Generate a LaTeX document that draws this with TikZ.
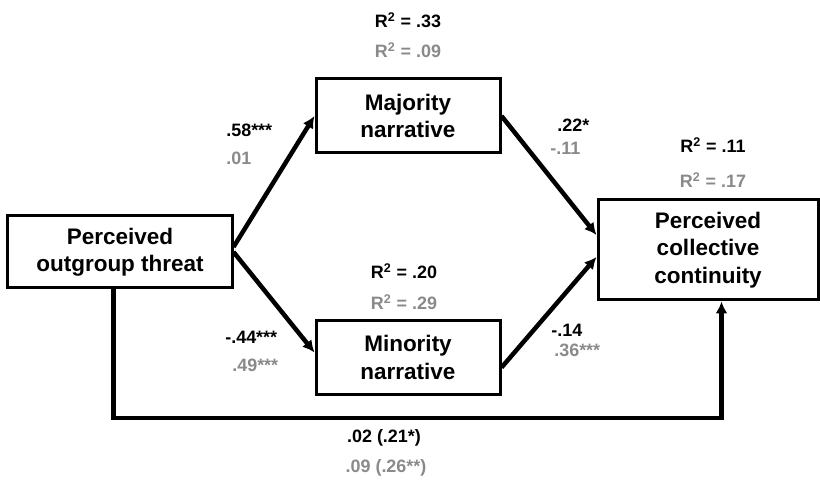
\documentclass[tikz,border=0pt]{standalone}
\usepackage{fontspec}
\setmainfont{Liberation Sans}
\usepackage{xcolor}
\usepackage{tikz}
\usetikzlibrary{arrows.meta}
\definecolor{lightgr}{RGB}{138,138,138}

\begin{document}
\begin{tikzpicture}[
	textbox/.style={font=\fontsize{12.8}{15.5}\selectfont\bfseries, draw, line width=0.06cm, minimum width=3.68cm, minimum height=1.48cm, inner sep=0, align=center},
	coef/.style={font=\fontsize{10.2}{12}\selectfont\bfseries, inner sep=0},
	arr/.style={line width=0.09cm, -{Latex[length=2.4mm,width=2.4mm]}}
]
\useasboundingbox (0,0) rectangle (16.4,9.62);

\node[textbox, minimum width=4.48cm, minimum height=1.44cm] (threat) at (2.4,4.58) {Perceived\\outgroup threat};
\node[textbox] (major) at (8.16,7.3) {Majority\\narrative};
\node[textbox] (minor) at (8.16,2.47) {Minority\\narrative};
\node[textbox, minimum width=4.4cm, minimum height=2cm] (cont) at (14.16,4.62) {Perceived\\collective\\continuity};

\node[coef] (r2maj) at (8.16,9.22) {R\textsuperscript{2} = .33};
\node[coef, lightgr] (r2majg) at (8.16,8.62) {R\textsuperscript{2} = .09};
\node[coef] (r2min) at (8.08,4.2) {R\textsuperscript{2} = .20};
\node[coef, lightgr] (r2ming) at (8.08,3.58) {R\textsuperscript{2} = .29};
\node[coef] (r2cont) at (14.26,6.72) {R\textsuperscript{2} = .11};
\node[coef, lightgr] (r2contg) at (14.26,6.02) {R\textsuperscript{2} = .17};

\node[coef, anchor=west] (a1) at (4.52,7.02) {.58***};
\node[coef, anchor=west, lightgr] (a1g) at (4.52,6.46) {.01};
\node[coef, anchor=west] (a2) at (4.5,2.88) {-.44***};
\node[coef, anchor=west, lightgr] (a2g) at (4.64,2.32) {.49***};
\node[coef, anchor=west] (b1) at (11.14,7.12) {.22*};
\node[coef, anchor=west, lightgr] (b1g) at (11.0,6.66) {-.11};
\node[coef, anchor=west] (b2) at (11.02,3.02) {-.14};
\node[coef, anchor=west, lightgr] (b2g) at (11.08,2.62) {.36***};
\node[coef] (c) at (7.68,0.86) {.02 (.21*)};
\node[coef, lightgr] (cg) at (7.72,0.26) {.09 (.26**)};

\draw[arr] ([yshift=1mm]threat.east) -- (major.west);
\draw[arr] (threat.east) -- ([yshift=1mm]minor.west);
\draw[arr] (major.east) -- ([yshift=3mm]cont.west);
\draw[arr] ([yshift=-2mm]minor.east) -- ([yshift=-1.4mm]cont.west);

\coordinate (base) at (0,1.26);
\draw[arr] ([xshift=-1.3mm]threat.south) -- ([xshift=-1.3mm]threat.south |- base) -| ([xshift=2.7mm]cont.south);
\end{tikzpicture}
\end{document}
